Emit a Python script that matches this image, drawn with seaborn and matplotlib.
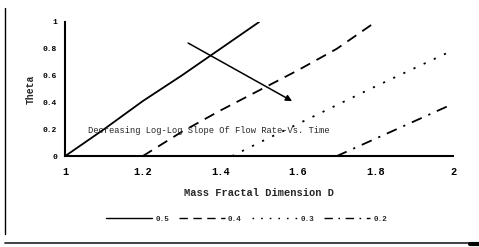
import pandas as pd
import numpy as np
import matplotlib.pyplot as plt
import seaborn as sns
from matplotlib.lines import Line2D

sns.set_style("white")
plt.rcParams['font.family'] = ['Liberation Mono', 'DejaVu Sans Mono']

# curves: theta vs mass fractal dimension, one per log-log slope
d_05 = [1.0, 1.1, 1.2, 1.3, 1.4, 1.5]
t_05 = [0.0, 0.2, 0.41, 0.6, 0.8, 1.0]
d_04 = [1.2, 1.3, 1.4, 1.5, 1.6, 1.7, 1.8]
t_04 = [0.0, 0.18, 0.34, 0.49, 0.64, 0.8, 1.0]
d_03 = [1.43, 1.5, 1.6, 1.8, 2.0]
t_03 = [0.0, 0.1, 0.24, 0.52, 0.79]
d_02 = [1.7, 1.8, 1.9, 2.0]
t_02 = [0.0, 0.13, 0.26, 0.39]
labels = ['0.5', '0.4', '0.3', '0.2']

x_ticks = [1, 1.2, 1.4, 1.6, 1.8, 2]
x_ticklabels = ['1', '1.2', '1.4', '1.6', '1.8', '2']
y_ticks = [0, 0.2, 0.4, 0.6, 0.8, 1]
y_ticklabels = ['0', '0.2', '0.4', '0.6', '0.8', '1']

note = 'Decreasing Log-Log Slope Of Flow Rate-Vs. Time'

frames = []
for lab, d, t in zip(labels, [d_05, d_04, d_03, d_02], [t_05, t_04, t_03, t_02]):
    frames.append(pd.DataFrame({'D': d, 'Theta': t, 'slope': lab}))
df = pd.concat(frames, ignore_index=True)

dash_map = {'0.5': '', '0.4': (6, 4), '0.3': (1.2, 5), '0.2': (6, 4, 1.2, 4)}

fig = plt.figure(figsize=(4.79, 2.47), dpi=100)
ax = fig.add_axes([0.136, 0.368, 0.81, 0.543])

sns.lineplot(data=df, x='D', y='Theta', hue='slope', style='slope',
             palette=['black'] * 4, dashes=dash_map, linewidth=1.3,
             legend=False, ax=ax, sort=False)

ax.set_xlim(1, 2)
ax.set_ylim(0, 1)
ax.set_xticks(x_ticks)
ax.set_xticklabels(x_ticklabels, fontsize=7.5, fontweight='bold')
ax.set_yticks(y_ticks)
ax.set_yticklabels(y_ticklabels, fontsize=5.8, fontweight='bold')
ax.tick_params(axis='both', direction='in', length=2, width=1, colors='black', pad=6)
ax.tick_params(axis='x', pad=8)
sns.despine(ax=ax)
for s in ['left', 'bottom']:
    ax.spines[s].set_color('black')
    ax.spines[s].set_linewidth(1.5)

ax.set_xlabel('Mass Fractal Dimension D', fontsize=7.5, fontweight='bold', labelpad=8)
ax.set_ylabel('Theta', fontsize=7, fontweight='bold', labelpad=5)

ax.annotate('', xy=(1.585, 0.41), xytext=(1.317, 0.843),
            arrowprops=dict(arrowstyle='-|>', color='black', lw=1.1,
                            mutation_scale=9, shrinkA=0, shrinkB=0))
ax.text(1.059, 0.19, note, fontsize=6.3, va='center', ha='left')

handles = [Line2D([0], [0], color='black', lw=1.0,
                  dashes=dash_map[l] if dash_map[l] else (None, None)) for l in labels]
fig.legend(handles, labels, loc='center', bbox_to_anchor=(0.515, 1 - 219 / 247),
           ncol=4, frameon=False, handlelength=6,
           handletextpad=0.4, columnspacing=1.3,
           prop={'weight': 'bold', 'size': 5.5})

# scanned page border
fig.add_artist(Line2D([5 / 479, 5 / 479], [1 - 8 / 247, 1 - 234 / 247],
                      color='black', lw=1.0, transform=fig.transFigure))
fig.add_artist(Line2D([5 / 479, 470 / 479], [1 - 243 / 247, 1 - 243 / 247],
                      color='#333333', lw=1.3, transform=fig.transFigure))
fig.add_artist(Line2D([470 / 479, 479 / 479], [1 - 244 / 247, 1 - 244 / 247],
                      color='black', lw=3, transform=fig.transFigure))

fig.savefig('out.png', dpi=100)
